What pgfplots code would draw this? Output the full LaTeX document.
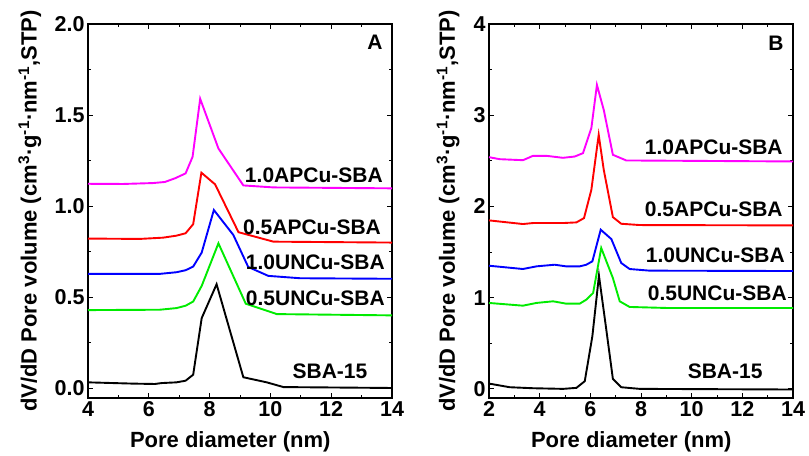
\documentclass[border=0pt]{standalone}
\usepackage{pgfplots}
\pgfplotsset{compat=1.18}
\usepackage{fontspec}
\setmainfont{Liberation Sans}
\definecolor{cmag}{RGB}{255,0,255}
\definecolor{cred}{RGB}{255,0,0}
\definecolor{cblue}{RGB}{0,0,255}
\definecolor{cgreen}{RGB}{0,235,0}

\tikzset{
  curve/.style={line width=1.9bp},
  tag/.style={font=\fontsize{21bp}{25bp}\selectfont\bfseries, inner sep=0pt},
}
\pgfplotsset{
  poreaxis/.style={
    scale only axis,
    width=304bp, height=374bp,
    anchor=south west,
    axis line style={line width=1.2bp},
    tick align=inside,
    major tick length=5bp,
    minor tick length=3bp,
    every tick/.style={black, line width=0.9bp},
    minor x tick num=1,
    minor y tick num=1,
    xtick pos=both, ytick pos=both,
    tick label style={font=\fontsize{21.5bp}{25bp}\selectfont\bfseries},
    label style={font=\fontsize{22bp}{26bp}\selectfont\bfseries},
    /pgf/number format/assume math mode=true,
    xlabel={Pore diameter (nm)},
    ylabel={dV/dD Pore volume (cm\textsuperscript{3}·g\textsuperscript{-1}·nm\textsuperscript{-1},STP)},
    xlabel style={at={(axis description cs:0.468,-0.118)}, anchor=center},
    clip=false,
  },
}

\begin{document}
\begin{tikzpicture}
\path (0,0) rectangle (809bp,454bp);

% ---- panel A ----
\begin{axis}[poreaxis,
  at={(88bp,56bp)},
  xmin=4, xmax=14, ymin=-0.055, ymax=2.0,
  xtick={4,6,...,14},
  ytick={0,0.5,...,2.0},
  yticklabel style={/pgf/number format/.cd, fixed, fixed zerofill, precision=1},
  ylabel style={at={(axis description cs:-0.191,0.5)}, anchor=center},
]
\addplot[curve, cmag] coordinates {
 (4,1.122) (5.15,1.121) (6.14,1.126) (6.53,1.132) (6.86,1.152) (7.21,1.179)
 (7.44,1.27) (7.69,1.589) (8.29,1.316) (9.11,1.113) (10.1,1.102) (14,1.097)};
\addplot[curve, cred] coordinates {
 (4,0.821) (5.7,0.819) (6.47,0.826) (6.91,0.837) (7.21,0.85) (7.46,0.9)
 (7.73,1.183) (8.18,1.119) (8.95,0.856) (10.1,0.804) (14,0.799)};
\addplot[curve, cblue] coordinates {
 (4,0.627) (6.36,0.627) (6.91,0.636) (7.21,0.647) (7.46,0.667) (7.74,0.744)
 (8.14,0.978) (8.78,0.841) (9.27,0.665) (9.93,0.616) (10.98,0.603) (14,0.6)};
\addplot[curve, cgreen] coordinates {
 (4,0.428) (6.36,0.43) (6.91,0.439) (7.21,0.452) (7.46,0.475) (7.74,0.561)
 (8.29,0.795) (9.19,0.463) (10.21,0.406) (14,0.399)};
\addplot[curve, black] coordinates {
 (4,0.031) (5.48,0.024) (6.2,0.022) (6.42,0.027) (6.91,0.031) (7.21,0.04)
 (7.46,0.073) (7.74,0.384) (8.23,0.57) (9.11,0.059) (9.88,0.031) (10.43,0.005) (14,0)};
\node[tag, anchor=east] at (axis cs:13.7,1.17) {1.0APCu-SBA};
\node[tag, anchor=east] at (axis cs:13.64,0.885) {0.5APCu-SBA};
\node[tag, anchor=east] at (axis cs:13.77,0.69) {1.0UNCu-SBA};
\node[tag, anchor=east] at (axis cs:13.77,0.495) {0.5UNCu-SBA};
\node[tag] at (axis cs:11.96,0.093) {SBA-15};
\node[tag] at (axis cs:13.44,1.9) {A};
\end{axis}

% ---- panel B ----
\begin{axis}[poreaxis,
  at={(489bp,56bp)},
  xmin=2, xmax=14, ymin=-0.1, ymax=4,
  xtick={2,4,...,14},
  ytick={0,1,...,4},
  ylabel style={at={(axis description cs:-0.135,0.5)}, anchor=center},
]
\addplot[curve, cmag] coordinates {
 (2,2.54) (2.42,2.518) (3.34,2.507) (3.74,2.555) (4.26,2.555) (4.92,2.533)
 (5.38,2.547) (5.71,2.584) (6.04,2.858) (6.26,3.332) (6.53,3.058) (6.89,2.566)
 (7.42,2.504) (14,2.493)};
\addplot[curve, cred] coordinates {
 (2,1.847) (3.34,1.807) (3.74,1.818) (4.92,1.818) (5.45,1.825) (5.75,1.872)
 (6.04,2.182) (6.33,2.785) (6.53,2.401) (6.89,1.883) (7.22,1.81) (7.95,1.796) (14,1.792)};
\addplot[curve, cblue] coordinates {
 (2,1.35) (3.34,1.314) (3.87,1.343) (4.59,1.361) (5.05,1.343) (5.58,1.343)
 (5.84,1.361) (6.08,1.398) (6.41,1.745) (6.83,1.642) (7.22,1.38) (7.55,1.314)
 (8.34,1.296) (14,1.292)};
\addplot[curve, cgreen] coordinates {
 (2,0.942) (3.34,0.912) (3.87,0.942) (4.53,0.96) (5.05,0.934) (5.58,0.934)
 (5.84,0.978) (6.11,1.051) (6.43,1.544) (6.89,1.215) (7.16,0.96) (7.55,0.898)
 (9.0,0.887) (14,0.887)};
\addplot[curve, black] coordinates {
 (2,0.058) (2.82,0.018) (3.74,0.007) (4.92,0) (5.45,0.011) (5.78,0.084)
 (6.08,0.577) (6.34,1.241) (6.63,0.65) (6.89,0.109) (7.22,0.018) (7.95,0) (14,-0.007)};
\node[tag, anchor=east] at (axis cs:13.6,2.65) {1.0APCu-SBA};
\node[tag, anchor=east] at (axis cs:13.6,1.97) {0.5APCu-SBA};
\node[tag, anchor=east] at (axis cs:13.68,1.46) {1.0UNCu-SBA};
\node[tag, anchor=east] at (axis cs:13.76,1.05) {0.5UNCu-SBA};
\node[tag] at (axis cs:11.32,0.19) {SBA-15};
\node[tag] at (axis cs:13.33,3.79) {B};
\end{axis}
\end{tikzpicture}
\end{document}
